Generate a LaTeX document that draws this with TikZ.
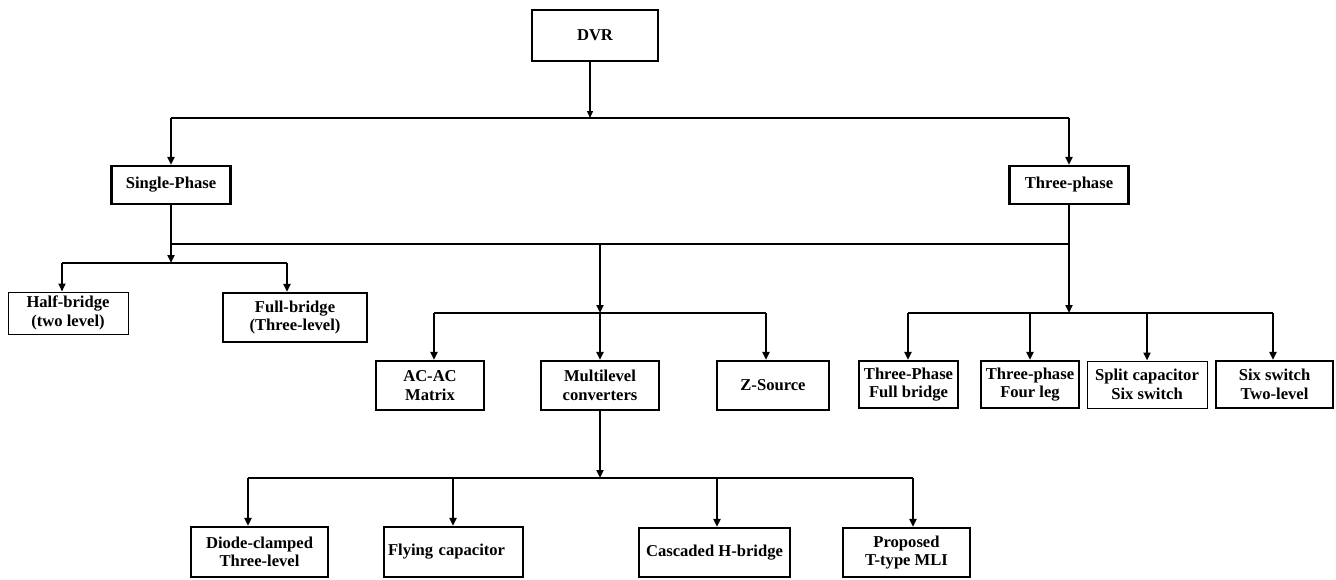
\documentclass[tikz,border=0pt]{standalone}
\usepackage{fontspec}
\setmainfont{Liberation Serif}
\usetikzlibrary{arrows.meta,calc}
\begin{document}
\begin{tikzpicture}[x=1pt,y=-1pt,
  box/.style={draw,line width=2.2pt,rectangle,inner sep=0pt,align=center,
    font=\fontsize{16.6}{18.5}\selectfont\bfseries},
  thinbox/.style={box,line width=1pt},
  ln/.style={line width=2.2pt},
  arr/.style={line width=2.2pt,-{Triangle[length=8pt,width=7pt]}},
  tarr/.style={line width=1.3pt,-{Triangle[length=7pt,width=6pt]}}]
\useasboundingbox (0,0) rectangle (1336,579);

% nodes
\node[box,minimum width=126pt,minimum height=51pt] (DVR) at (595,35.5) {DVR};
\node[box,minimum width=119pt,minimum height=38pt] (Single) at (171,185) {Single-Phase};
\node[box,minimum width=119pt,minimum height=38pt] (Three) at (1069,185) {Three-phase};
\node[thinbox,minimum width=120pt,minimum height=42pt] (Half) at (68,313) {Half-bridge\\(two level)};
\node[box,minimum width=144pt,minimum height=49pt] (Full) at (295,317.5) {Full-bridge\\(Three-level)};
\node[box,minimum width=108pt,minimum height=49pt] (ACAC) at (430,385.5) {AC-AC\\Matrix};
\node[box,minimum width=118pt,minimum height=49pt] (Multi) at (600,385.5) {Multilevel\\converters};
\node[box,minimum width=112pt,minimum height=49pt] (Z) at (773,385.5) {Z-Source};
\node[box,minimum width=99pt,minimum height=47pt] (TPFB) at (908.5,384.5) {Three-Phase\\Full bridge};
\node[box,minimum width=98pt,minimum height=47pt] (TPFL) at (1030,384.5) {Three-phase\\Four leg};
\node[thinbox,minimum width=120pt,minimum height=47pt] (Split) at (1147,384.5) {Split capacitor\\Six switch};
\node[box,minimum width=117pt,minimum height=47pt] (Six) at (1274.5,384.5) {Six switch\\Two-level};
\node[box,minimum width=137pt,minimum height=50pt] (Diode) at (259.5,552) {Diode-clamped\\Three-level};
\node[box,minimum width=139pt,minimum height=50pt,text width=131pt,align=left] (Fly) at (453.5,552) {Flying capacitor};
\node[box,minimum width=151pt,minimum height=49pt] (Casc) at (714.5,552.5) {\raisebox{-5pt}{Cascaded H-bridge}};
\node[box,minimum width=127pt,minimum height=49pt] (Prop) at (906.5,552.5) {Proposed\\T-type MLI};

% bus coordinates
\coordinate (tb) at (590,118);
\coordinate (tbL) at (171,118);
\coordinate (tbR) at (1069,118);
\coordinate (mbL) at (171,244);
\coordinate (mbM) at (600,244);
\coordinate (mbR) at (1069,244);
\coordinate (sb) at (171,263);
\coordinate (sbL) at (62,263);
\coordinate (sbR) at (287,263);
\coordinate (cb) at (600,313);
\coordinate (cbL) at (434,313);
\coordinate (cbR) at (766,313);
\coordinate (rb) at (1069,313);
\coordinate (rb1) at (908,313);
\coordinate (rb2) at (1030,313);
\coordinate (rb3) at (1147,313);
\coordinate (rb4) at (1273,313);
\coordinate (bb) at (600,478);
\coordinate (bb1) at (248,478);
\coordinate (bb2) at (453,478);
\coordinate (bb3) at (717,478);
\coordinate (bb4) at (913,478);

% top level
\draw[tarr] ([xshift=-5pt]DVR.south) -- (tb);
\draw[ln] (tbL) -- (tbR);
\draw[arr] (tbL) -- (tbL |- Single.north);
\draw[arr] (tbR) -- (tbR |- Three.north);

% single-phase branch
\draw[arr] (Single.south) -- (sb);
\draw[ln] (sbL) -- (sbR);
\draw[arr] (sbL) -- (sbL |- Half.north);
\draw[arr] (sbR) -- (sbR |- Full.north);

% common line
\draw[ln] (mbL) -- (mbR);
\draw[arr] (mbM) -- (cb);
\draw[ln] (cbL) -- (cbR);
\draw[arr] (cbL) -- (cbL |- ACAC.north);
\draw[arr] (cb) -- (Multi.north);
\draw[arr] (cbR) -- (cbR |- Z.north);

% three-phase branch
\draw[arr] (Three.south) -- (rb);
\draw[ln] (rb1) -- (rb4);
\draw[arr] (rb1) -- (rb1 |- TPFB.north);
\draw[arr] (rb2) -- (rb2 |- TPFL.north);
\draw[arr] (rb3) -- (rb3 |- Split.north);
\draw[arr] (rb4) -- (rb4 |- Six.north);

% multilevel branch
\draw[arr] (Multi.south) -- (bb);
\draw[ln] (bb1) -- (bb4);
\draw[arr] (bb1) -- (bb1 |- Diode.north);
\draw[arr] (bb2) -- (bb2 |- Fly.north);
\draw[arr] (bb3) -- (bb3 |- Casc.north);
\draw[arr] (bb4) -- (bb4 |- Prop.north);
\end{tikzpicture}
\end{document}
